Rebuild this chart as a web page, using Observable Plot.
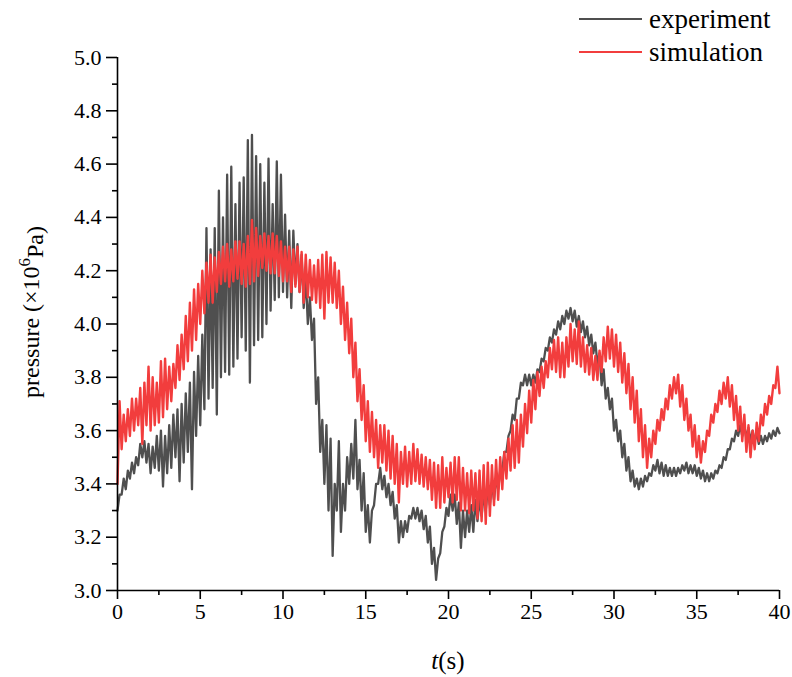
<!DOCTYPE html>
<html><head><meta charset="utf-8">
<script src="https://cdn.jsdelivr.net/npm/d3@7"></script>
<script src="https://cdn.jsdelivr.net/npm/@observablehq/plot@0.6"></script>
<style>
body{margin:0;background:#fff;}
#wrap{position:relative;width:792px;height:677px;}
</style></head><body><div id="wrap"></div>
<script>
// sampling step of the envelope readings (s)
const dt = 0.25;
// experiment: lower / upper envelope of the noisy trace, t = 0, 0.25, ..., 40
const expLo = [
3.30,3.36,3.38,3.42, 3.44,3.47,3.50,3.48, 3.44,3.46,3.45,3.39, 3.44,3.46,3.50,3.41,
3.48,3.52,3.38,3.58, 3.62,3.68,3.72,3.76, 3.66,3.80,3.82,3.81, 3.84,3.87,3.95,3.90,
3.78,3.92,3.94,3.95, 4.00,4.05,4.09,4.10, 4.12,4.10,4.06,4.15, 4.12,4.06,4.00,3.94,
3.70,3.52,3.40,3.30, 3.13,3.30,3.22,3.30, 3.40,3.42,3.38,3.30, 3.22,3.18,3.32,3.40,
3.38,3.35,3.32,3.27, 3.18,3.20,3.22,3.27, 3.27,3.26,3.23,3.18, 3.10,3.04,3.14,3.24,
3.28,3.30,3.25,3.16, 3.20,3.22,3.22,3.26, 3.28,3.30,3.32,3.34, 3.38,3.45,3.52,3.60,
3.64,3.72,3.77,3.77, 3.77,3.78,3.82,3.86, 3.90,3.93,3.96,3.98, 4.00,4.02,4.01,3.99,
3.97,3.95,3.92,3.89, 3.85,3.77,3.72,3.68, 3.60,3.56,3.50,3.45, 3.41,3.39,3.38,3.39,
3.41,3.43,3.45,3.44, 3.43,3.43,3.43,3.43, 3.44,3.45,3.44,3.44, 3.43,3.42,3.41,3.41,
3.42,3.44,3.46,3.49, 3.53,3.56,3.58,3.58, 3.57,3.56,3.56,3.55, 3.55,3.56,3.57,3.58,
3.59];
const expHi = [
3.36,3.42,3.45,3.48, 3.50,3.55,3.56,3.55, 3.54,3.58,3.60,3.58, 3.62,3.66,3.68,3.70,
3.74,3.78,3.82,3.88, 3.96,4.36,4.28,4.36, 4.50,4.40,4.56,4.59, 4.45,4.53,4.55,4.69,
4.71,4.63,4.60,4.53, 4.62,4.45,4.61,4.56, 4.41,4.35,4.35,4.30, 4.26,4.18,4.10,4.02,
3.80,3.64,3.62,3.57, 3.40,3.56,3.40,3.50, 3.55,3.64,3.49,3.44, 3.32,3.30,3.40,3.46,
3.43,3.40,3.37,3.32, 3.26,3.26,3.28,3.31, 3.31,3.30,3.28,3.24, 3.16,3.12,3.22,3.31,
3.36,3.36,3.33,3.30, 3.30,3.32,3.34,3.34, 3.36,3.38,3.40,3.42, 3.45,3.52,3.58,3.66,
3.72,3.78,3.81,3.81, 3.81,3.83,3.87,3.91, 3.95,3.98,4.01,4.03, 4.05,4.06,4.05,4.03,
4.01,3.99,3.96,3.93, 3.89,3.83,3.76,3.72, 3.64,3.60,3.55,3.50, 3.45,3.42,3.42,3.43,
3.44,3.47,3.49,3.48, 3.47,3.46,3.46,3.46, 3.47,3.48,3.47,3.47, 3.46,3.45,3.44,3.44,
3.45,3.47,3.50,3.53, 3.57,3.60,3.62,3.62, 3.61,3.60,3.59,3.58, 3.58,3.59,3.60,3.61,
3.61];
// simulation: lower / upper envelope
const simLo = [
3.40,3.53,3.56,3.58, 3.60,3.62,3.55,3.62, 3.60,3.62,3.63,3.65, 3.68,3.71,3.76,3.79,
3.83,3.86,3.90,3.94, 4.00,4.04,4.08,4.08, 4.12,4.15,4.16,4.14, 4.16,4.17,4.15,4.14,
4.15,4.16,4.18,4.21, 4.20,4.19,4.19,4.18, 4.16,4.16,4.12,4.14, 4.12,4.08,4.10,4.09,
4.08,4.06,4.02,4.08, 4.08,4.06,4.00,3.94, 3.89,3.80,3.71,3.64, 3.56,3.52,3.50,3.46,
3.48,3.45,3.42,3.40, 3.33,3.40,3.39,3.40, 3.41,3.40,3.39,3.38, 3.34,3.31,3.31,3.33,
3.35,3.33,3.34,3.30, 3.30,3.29,3.30,3.27, 3.26,3.25,3.28,3.32, 3.34,3.38,3.42,3.45,
3.46,3.48,3.54,3.59, 3.63,3.68,3.73,3.76, 3.80,3.83,3.82,3.80, 3.80,3.84,3.86,3.85,
3.84,3.82,3.81,3.79, 3.79,3.82,3.86,3.87, 3.84,3.82,3.78,3.74, 3.68,3.63,3.56,3.50,
3.46,3.50,3.55,3.60, 3.64,3.68,3.72,3.74, 3.69,3.64,3.60,3.54, 3.50,3.48,3.52,3.58,
3.63,3.67,3.70,3.72, 3.69,3.64,3.60,3.56, 3.52,3.50,3.53,3.56, 3.62,3.66,3.70,3.76,
3.74];
const simHi = [
3.71,3.66,3.68,3.72, 3.72,3.76,3.78,3.84, 3.80,3.78,3.86,3.87, 3.84,3.85,3.92,3.96,
4.03,4.08,4.13,4.15, 4.20,4.23,4.26,4.25, 4.27,4.29,4.30,4.28, 4.31,4.31,4.30,4.33,
4.39,4.36,4.33,4.34, 4.33,4.34,4.33,4.31, 4.29,4.29,4.28,4.29, 4.27,4.26,4.24,4.22,
4.24,4.26,4.27,4.25, 4.23,4.20,4.14,4.08, 4.02,3.93,3.83,3.77, 3.71,3.67,3.64,3.62,
3.62,3.60,3.58,3.55, 3.52,3.54,3.52,3.55, 3.53,3.51,3.50,3.49, 3.48,3.47,3.50,3.46,
3.48,3.50,3.50,3.46, 3.44,3.45,3.44,3.45, 3.47,3.48,3.47,3.49, 3.50,3.52,3.57,3.62,
3.64,3.66,3.70,3.75, 3.79,3.82,3.84,3.86, 3.91,3.94,3.95,3.93, 3.95,4.00,3.98,4.01,
3.95,3.92,3.91,3.88, 3.90,3.95,3.99,3.98, 3.96,3.93,3.89,3.85, 3.80,3.75,3.68,3.62,
3.57,3.60,3.64,3.68, 3.72,3.77,3.80,3.81, 3.77,3.72,3.66,3.62, 3.58,3.56,3.60,3.66,
3.70,3.75,3.78,3.80, 3.77,3.73,3.69,3.66, 3.62,3.60,3.63,3.66, 3.70,3.73,3.77,3.84,
3.82];
const yMajor = [3.0,3.2,3.4,3.6,3.8,4.0,4.2,4.4,4.6,4.8,5.0];
const yMinor = [3.1,3.3,3.5,3.7,3.9,4.1,4.3,4.5,4.7,4.9];
const xMajor = [0,5,10,15,20,25,30,35,40];
const xMinor = [2.5,7.5,12.5,17.5,22.5,27.5,32.5,37.5];
const seriesNames = ["experiment","simulation"];
const colors = ["#4f4f4f","#f23d3d"];

function zigzag(lo, hi){
  const out = [];
  lo.forEach((v,i)=>{
    out.push({t:i*dt, p:v});
    if (i < lo.length-1) out.push({t:i*dt+dt/2, p:hi[i]});
  });
  return out;
}
const expData = zigzag(expLo, expHi);
const simData = zigzag(simLo, simHi);

const font = "'Liberation Serif','Times New Roman',serif";
const plot = Plot.plot({
  width: 792, height: 677,
  marginLeft: 117, marginRight: 13, marginTop: 57, marginBottom: 87,
  x: {domain: [0, 40]},
  y: {domain: [3, 5]},
  style: {fontFamily: font, fontSize: "22px", color: "black", background: "white"},
  marks: [
    Plot.line(expData, {x: "t", y: "p", stroke: colors[0], strokeWidth: 2.3, strokeLinejoin: "round"}),
    Plot.line(simData, {x: "t", y: "p", stroke: colors[1], strokeWidth: 2.4, strokeLinejoin: "round"}),
    Plot.ruleX([0], {stroke: "black", strokeWidth: 1.6}),
    Plot.ruleY([3], {stroke: "black", strokeWidth: 1.6}),
    Plot.axisY(yMajor, {tickSize: 11, tickPadding: 5, tickFormat: d3.format(".1f"), label: null, strokeWidth: 1.6}),
    Plot.axisY(yMinor, {tickSize: 5, tickFormat: () => "", label: null, strokeWidth: 1.6}),
    Plot.axisX(xMajor, {tickSize: 9, tickPadding: 4, tickFormat: d3.format("d"), label: null, strokeWidth: 1.6}),
    Plot.axisX(xMinor, {tickSize: 5, tickFormat: () => "", label: null, strokeWidth: 1.6})
  ]
});

const svg = d3.select(plot);
// y label with superscript
const yl = svg.append("text")
  .attr("transform", "translate(39,312) rotate(-90)")
  .attr("text-anchor", "middle")
  .attr("font-family", font).attr("font-size", 24).attr("fill", "black");
yl.append("tspan").text("pressure (×10");
yl.append("tspan").attr("dy", "-0.55em").attr("font-size", "0.7em").text("6");
yl.append("tspan").attr("dy", "0.55em").text("Pa)");
// x label
const xl = svg.append("text")
  .attr("x", 448).attr("y", 669)
  .attr("text-anchor", "middle")
  .attr("font-family", font).attr("font-size", 25).attr("fill", "black");
xl.append("tspan").attr("font-style", "italic").text("t");
xl.append("tspan").text("(s)");
// legend
seriesNames.forEach((name, i) => {
  const y = 19 + i * 33;
  svg.append("line").attr("x1", 579).attr("x2", 642).attr("y1", y).attr("y2", y)
    .attr("stroke", colors[i]).attr("stroke-width", 2.2);
  svg.append("text").attr("x", 649).attr("y", y + 9)
    .attr("text-anchor", "start")
    .attr("font-family", font).attr("font-size", 27).attr("fill", "black").text(name);
});

document.getElementById("wrap").appendChild(plot);
</script>
</body></html>
